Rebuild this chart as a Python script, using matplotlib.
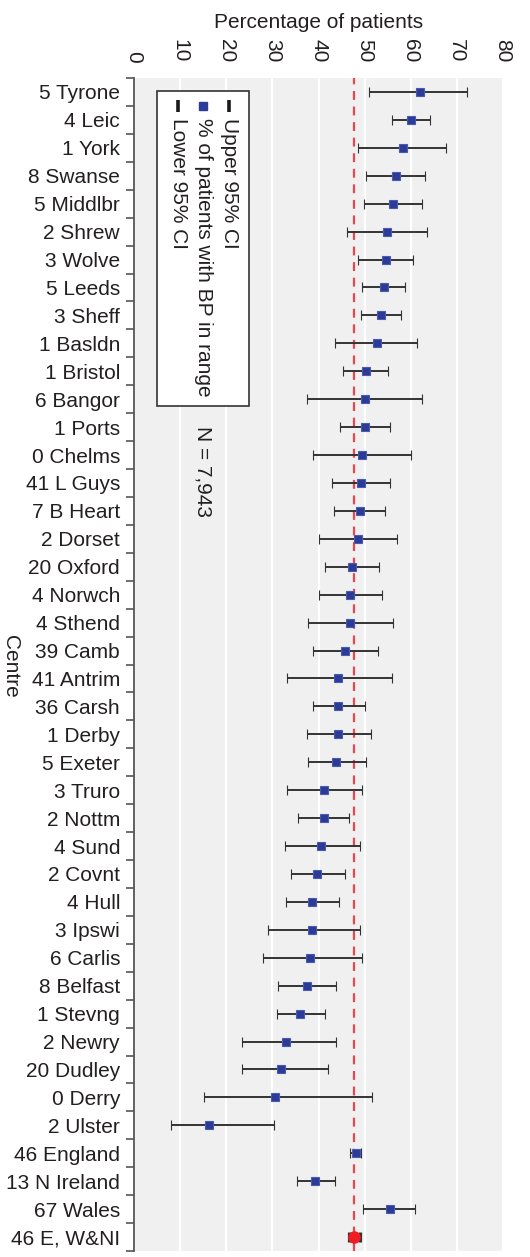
import matplotlib
matplotlib.use('Agg')
import matplotlib.pyplot as plt
from matplotlib.patches import Rectangle
from matplotlib.ticker import FixedLocator
import numpy as np

plt.rcParams['font.family'] = ['Liberation Sans', 'DejaVu Sans']

# centres, top to bottom; the last row is the pooled figure
centres = ['5 Tyrone', '4 Leic', '1 York', '8 Swanse', '5 Middlbr', '2 Shrew',
           '3 Wolve', '5 Leeds', '3 Sheff', '1 Basldn', '1 Bristol', '6 Bangor',
           '1 Ports', '0 Chelms', '41 L Guys', '7 B Heart', '2 Dorset', '20 Oxford',
           '4 Norwch', '4 Sthend', '39 Camb', '41 Antrim', '36 Carsh', '1 Derby',
           '5 Exeter', '3 Truro', '2 Nottm', '4 Sund', '2 Covnt', '4 Hull',
           '3 Ipswi', '6 Carlis', '8 Belfast', '1 Stevng', '2 Newry', '20 Dudley',
           '0 Derry', '2 Ulster', '46 England', '13 N Ireland', '67 Wales',
           '46 E, W&NI']

# % of patients with BP in range
pct = [62.0, 60.1, 58.4, 56.8, 56.2, 54.9, 54.6, 54.2, 53.6, 52.6,
       50.2, 50.0, 50.0, 49.4, 49.2, 48.9, 48.5, 47.3, 46.9, 46.9,
       45.7, 44.3, 44.3, 44.3, 43.8, 41.1, 41.1, 40.6, 39.7, 38.5,
       38.5, 38.2, 37.4, 36.0, 32.9, 31.9, 30.5, 16.3, 48.1, 39.3,
       55.4, 47.7]
lower = [51.0, 55.9, 48.6, 50.3, 49.9, 46.1, 48.6, 49.5, 49.3, 43.6,
         45.4, 37.6, 44.7, 38.9, 43.0, 43.4, 40.0, 41.4, 40.1, 37.7,
         38.9, 33.2, 38.7, 37.4, 37.7, 33.2, 35.6, 32.8, 34.0, 32.9,
         29.1, 28.0, 31.3, 30.9, 23.5, 23.4, 15.2, 8.0, 46.9, 35.3,
         49.6, 46.6]
upper = [72.1, 64.2, 67.6, 63.1, 62.5, 63.6, 60.5, 58.7, 57.8, 61.3,
         55.1, 62.4, 55.4, 60.0, 55.4, 54.4, 57.1, 53.2, 53.7, 56.1,
         52.9, 56.0, 50.1, 51.4, 50.2, 49.4, 46.7, 49.0, 45.8, 44.5,
         48.9, 49.5, 43.9, 41.4, 43.9, 42.0, 51.6, 30.4, 49.2, 43.6,
         60.9, 48.9]
x_ticks = [0, 10, 20, 30, 40, 50, 60, 70, 80]
n_total = '7,943'

pct = np.array(pct)
lower = np.array(lower)
upper = np.array(upper)
y = np.arange(len(centres))
overall = pct[-1]

blue = '#2c3b96'
red = '#ee1c25'
txt = '#231f20'
fs = 15

fig = plt.figure(figsize=(5.3, 12.57), dpi=100)
ax = fig.add_axes([134 / 530, 6 / 1257, 369 / 530, 1173 / 1257])
ax.set_facecolor('#eff0ef')

# white vertical grid
for t in x_ticks:
    ax.axvline(t, color='white', lw=1.6, zorder=0)

# pooled line
ax.axvline(overall, color='#e84750', lw=1.6, ls=(0, (4, 3)), zorder=1)

# centres with confidence intervals
err = np.vstack([pct - lower, upper - pct])
ax.errorbar(pct[:-1], y[:-1], xerr=err[:, :-1], fmt='s', ms=6,
            mfc=blue, mec='#4a5ab0', mew=0.8, ecolor='#333333', elinewidth=1.4,
            capsize=3.8, capthick=2.3, zorder=3)
ax.errorbar(pct[-1:], y[-1:], xerr=err[:, -1:], fmt='o', ms=8,
            mfc=red, mec=red, ecolor='#333333', elinewidth=1.4,
            capsize=3.8, capthick=2.3, zorder=3)

ax.set_xlim(0, 80)
ax.set_ylim(len(centres) - 0.5, -0.5)

# x axis on top, labels turned
ax.xaxis.tick_top()
ax.xaxis.set_label_position('top')
ax.set_xticks(x_ticks)
ax.set_xticklabels([str(t) for t in x_ticks], rotation=270, fontsize=fs, color=txt)
ax.tick_params(axis='x', length=0, pad=11)
ax.set_xlabel('Percentage of patients', fontsize=fs, color=txt, labelpad=8)

# y axis: labels at rows, tick marks between rows
ax.set_yticks(y)
ax.set_yticklabels(centres, fontsize=fs, color=txt)
ax.tick_params(axis='y', which='major', length=0, pad=10)
ax.yaxis.set_minor_locator(FixedLocator(np.arange(-0.5, len(centres), 1)))
ax.tick_params(axis='y', which='minor', length=6, width=1.2, color='#555555', direction='out')

for s in ['top', 'right', 'bottom']:
    ax.spines[s].set_visible(False)
ax.spines['left'].set_color('#555555')
ax.spines['left'].set_linewidth(1.3)

fig.text(10 / 530, 1 - 666 / 1257, 'Centre', rotation=270, ha='center', va='center',
         fontsize=fs, color=txt)

# legend box drawn by hand, text turned like the axis
ax.add_patch(Rectangle((5, -0.03), 19.9, 11.27, facecolor='white',
                       edgecolor='#333333', lw=1.2, zorder=4))
ax.plot([20.7], [0.5], marker='|', ms=8, mew=2.6, color='#1a1a1a', zorder=5)
ax.plot([15.0], [0.5], marker='s', ms=5.5, mfc=blue, mec=blue, zorder=5)
ax.plot([9.6], [0.5], marker='|', ms=8, mew=2.6, color='#1a1a1a', zorder=5)
ax.text(20.7, 0.95, 'Upper 95% CI', rotation=270, ha='center', va='top',
        fontsize=fs, color=txt, zorder=5)
ax.text(15.0, 0.95, '% of patients with BP in range', rotation=270, ha='center',
        va='top', fontsize=fs, color=txt, zorder=5)
ax.text(9.6, 0.95, 'Lower 95% CI', rotation=270, ha='center', va='top',
        fontsize=fs, color=txt, zorder=5)

ax.text(15.0, 13.6, 'N = ' + n_total, rotation=270, ha='center', va='center',
        fontsize=fs, color=txt)

plt.savefig('out.png', dpi=100)
